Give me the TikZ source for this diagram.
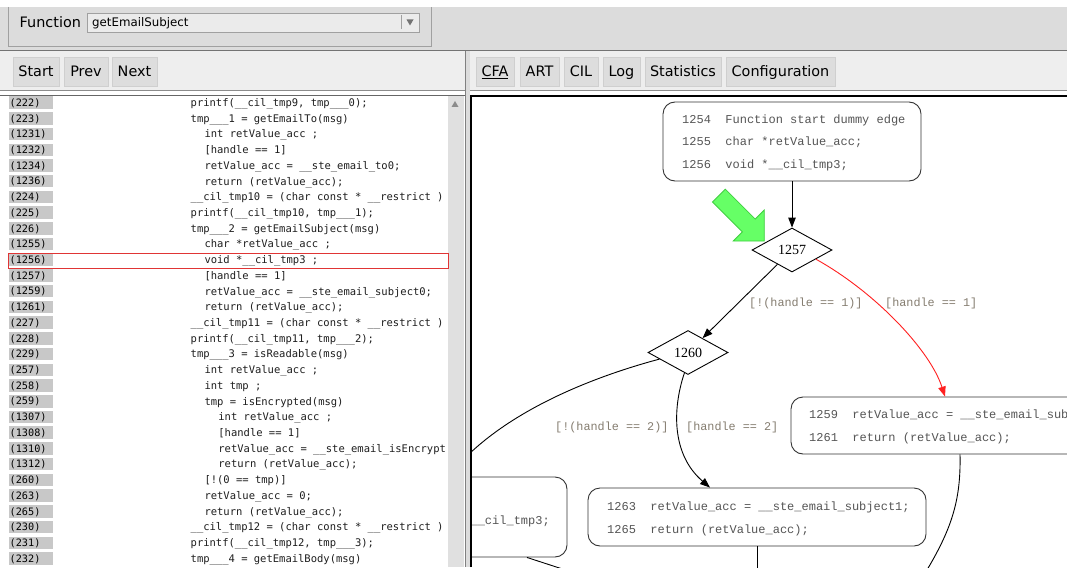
\documentclass[tikz,border=0pt]{standalone}
\usepackage{fontspec}
\usetikzlibrary{shapes.geometric,arrows.meta,calc}
\newfontfamily\uifont{DejaVu Sans}
\newfontfamily\codefont{DejaVu Sans Mono}
\newfontfamily\gvmono{Liberation Mono}
\newfontfamily\gvserif{Liberation Serif}
\definecolor{panelgray}{HTML}{DCDCDC}
\definecolor{barbg}{HTML}{EEEEEE}
\definecolor{btnbg}{HTML}{DDDDDD}
\definecolor{btnedge}{HTML}{CFCFCF}
\definecolor{edgegray}{HTML}{A0A0A0}
\definecolor{combobg}{HTML}{EBEBEB}
\definecolor{numbg}{HTML}{C8C8C8}
\definecolor{codeink}{HTML}{1E1E1E}
\definecolor{gvink}{HTML}{555555}
\definecolor{gvlabel}{HTML}{857D70}
\definecolor{hlred}{HTML}{E03535}
\definecolor{arrowgreen}{HTML}{66FF66}
\definecolor{arrowgreenedge}{HTML}{3FCF3F}
\definecolor{gvred}{HTML}{FF2020}
\newcommand\codeRow[4]{%
  \pgfmathsetmacro\rowy{102.6+15.72*#1}%
  \node[numbox] (n#1) at (31,\rowy) {};%
  \node[numtxt] (nt#1) at (9.5,\rowy+3.7) {(#2)};%
  \node[codetxt] (c#1) at (#3,\rowy+3.8) {#4};%
}
\tikzset{
  ui/.style={font=\uifont\fontsize{14.4pt}{16pt}\selectfont, text=black},
  btn/.style={ui, fill=btnbg, draw=btnedge, line width=0.6pt, minimum height=29pt, inner sep=0pt, text height=10.5pt, text depth=0pt},
  numbox/.style={fill=numbg, minimum width=44pt, minimum height=12.5pt, inner sep=0pt},
  numtxt/.style={anchor=base west, inner sep=0pt, font=\codefont\fontsize{10.2pt}{12pt}\selectfont, text=black},
  codetxt/.style={anchor=base west, inner sep=0pt, font=\codefont\fontsize{10.5pt}{12pt}\selectfont, text=codeink},
  gvbox/.style={draw=black!80, line width=0.9pt, rounded corners=12pt, fill=white, inner sep=0pt},
  gvdiam/.style={diamond, draw=black, line width=0.9pt, fill=white, minimum width=80pt, minimum height=44pt, inner sep=0pt, font=\gvserif\fontsize{14pt}{16pt}\selectfont},
  gvtxt/.style={anchor=base west, inner sep=0pt, font=\gvmono\fontsize{12pt}{14pt}\selectfont, text=gvink},
  gvlab/.style={anchor=base west, inner sep=0pt, font=\gvmono\fontsize{11.8pt}{14pt}\selectfont, text=gvlabel},
  gvedge/.style={draw=black, line width=0.9pt, -{Triangle[length=10pt,width=7.5pt]}},
  gvredge/.style={draw=gvred, line width=0.9pt, -{Triangle[length=10pt,width=7.5pt]}},
  gvline/.style={draw=black, line width=0.9pt}
}
\begin{document}
\begin{tikzpicture}[x=1pt,y=-1pt]
\useasboundingbox (0,0) rectangle (1067,567);
\fill[white] (0,0) rectangle (1067,567);
% top bar
\fill[panelgray] (0,7) rectangle (1067,50);
\draw[edgegray, line width=0.8pt] (8,7) -- (8,46) -- (431,46) -- (431,7);
\node[ui, anchor=base west, inner sep=0pt] (fnlabel) at (19.5,28) {Function};
\node[draw=edgegray, fill=combobg, minimum width=332pt, minimum height=19pt, inner sep=0pt] (combo) at (253,22.5) {};
\node[anchor=base west, inner sep=0pt, font=\uifont\fontsize{11.8pt}{14pt}\selectfont] (combotxt) at (92,27) {getEmailSubject};
\draw[edgegray] (401.5,15.5) -- (401.5,29.5);
\fill[black!55] (406.5,19.5) -- (413.5,19.5) -- (410,25.5) -- cycle;
\draw[black!55, line width=1pt] (0,50.5) -- (1067,50.5);
% toolbars
\fill[barbg] (0,51) rectangle (465,90);
\fill[barbg] (470,51) rectangle (1067,90);
\fill[panelgray] (465,51) rectangle (470,567);
\draw[black!45] (0,90.5) -- (465,90.5);
\draw[black!45] (470,90.5) -- (1067,90.5);
\draw[black!50] (465.5,51) -- (465.5,567);
\node[btn, minimum width=46pt] (bstart) at (36,71.5) {Start};
\node[btn, minimum width=44pt] (bprev) at (86,71.5) {Prev};
\node[btn, minimum width=45pt] (bnext) at (134.5,71.5) {Next};
\node[btn, minimum width=38pt] (bcfa) at (495,71.5) {\underline{CFA}};
\node[btn, minimum width=39pt] (bart) at (539.5,71.5) {ART};
\node[btn, minimum width=34pt] (bcil) at (581,71.5) {CIL};
\node[btn, minimum width=37pt] (blog) at (621.5,71.5) {Log};
\node[btn, minimum width=76pt] (bstat) at (683,71.5) {Statistics};
\node[btn, minimum width=109pt] (bconf) at (780.5,71.5) {Configuration};
% code panel
\fill[white] (0,91) rectangle (465,567);
\draw[black!60] (0,95.5) -- (465,95.5);
\fill[black!12] (448,96) rectangle (463.5,567);
\fill[black!45] (451.5,107) -- (458.5,107) -- (455,101) -- cycle;
\begin{scope}
\clip (0,96) rectangle (447.5,567);
\codeRow{0}{222}{190.5}{printf(\_\_cil\_tmp9, tmp\_\_\_0);}
\codeRow{1}{223}{190.5}{tmp\_\_\_1 = getEmailTo(msg)}
\codeRow{2}{1231}{204.3}{int retValue\_acc ;}
\codeRow{3}{1232}{204.3}{[handle == 1]}
\codeRow{4}{1234}{204.3}{retValue\_acc = \_\_ste\_email\_to0;}
\codeRow{5}{1236}{204.3}{return (retValue\_acc);}
\codeRow{6}{224}{190.5}{\_\_cil\_tmp10 = (char const * \_\_restrict )}
\codeRow{7}{225}{190.5}{printf(\_\_cil\_tmp10, tmp\_\_\_1);}
\codeRow{8}{226}{190.5}{tmp\_\_\_2 = getEmailSubject(msg)}
\codeRow{9}{1255}{204.3}{char *retValue\_acc ;}
\codeRow{10}{1256}{204.3}{void *\_\_cil\_tmp3 ;}
\codeRow{11}{1257}{204.3}{[handle == 1]}
\codeRow{12}{1259}{204.3}{retValue\_acc = \_\_ste\_email\_subject0;}
\codeRow{13}{1261}{204.3}{return (retValue\_acc);}
\codeRow{14}{227}{190.5}{\_\_cil\_tmp11 = (char const * \_\_restrict )}
\codeRow{15}{228}{190.5}{printf(\_\_cil\_tmp11, tmp\_\_\_2);}
\codeRow{16}{229}{190.5}{tmp\_\_\_3 = isReadable(msg)}
\codeRow{17}{257}{204.3}{int retValue\_acc ;}
\codeRow{18}{258}{204.3}{int tmp ;}
\codeRow{19}{259}{204.3}{tmp = isEncrypted(msg)}
\codeRow{20}{1307}{218.2}{int retValue\_acc ;}
\codeRow{21}{1308}{218.2}{[handle == 1]}
\codeRow{22}{1310}{218.2}{retValue\_acc = \_\_ste\_email\_isEncrypt}
\codeRow{23}{1312}{218.2}{return (retValue\_acc);}
\codeRow{24}{260}{204.3}{[!(0 == tmp)]}
\codeRow{25}{263}{204.3}{retValue\_acc = 0;}
\codeRow{26}{265}{204.3}{return (retValue\_acc);}
\codeRow{27}{230}{190.5}{\_\_cil\_tmp12 = (char const * \_\_restrict )}
\codeRow{28}{231}{190.5}{printf(\_\_cil\_tmp12, tmp\_\_\_3);}
\codeRow{29}{232}{190.5}{tmp\_\_\_4 = getEmailBody(msg)}
\end{scope}
\draw[hlred, line width=1pt] (8.5,253.2) rectangle (448,268);
% graph panel
\fill[white] (471,96) rectangle (1067,567);
\begin{scope}
\clip (472,97) rectangle (1067,567);
\node[gvbox, minimum width=258pt, minimum height=79pt] (btop) at (792,141.5) {};
\node[gvtxt] (t1254) at (682,124) {1254~~Function start dummy edge};
\node[gvtxt] (t1255) at (682,145.7) {1255~~char *retValue\_acc;};
\node[gvtxt] (t1256) at (682,168) {1256~~void *\_\_cil\_tmp3;};
\node[gvdiam] (d1257) at (792,250) {1257};
\node[gvdiam] (d1260) at (688,352.5) {1260};
\node[gvbox, minimum width=338pt, minimum height=57pt] (b1259) at (960,425.5) {};
\node[gvtxt] (t1259) at (809,418) {1259~~retValue\_acc = \_\_ste\_email\_sub};
\node[gvtxt] (t1261) at (809,441) {1261~~return (retValue\_acc);};
\node[gvbox, minimum width=338pt, minimum height=58pt] (b1263) at (757,517) {};
\node[gvtxt] (t1263) at (607,510) {1263~~retValue\_acc = \_\_ste\_email\_subject1;};
\node[gvtxt] (t1265) at (607,533) {1265~~return (retValue\_acc);};
\node[gvbox, minimum width=201pt, minimum height=80pt] (bleft) at (466.5,517) {};
\node[gvtxt, anchor=base east] (tleft) at (550,524) {\_\_cil\_tmp3;};
\coordinate (offL) at (468,455);
\coordinate (off63) at (757,575);
\coordinate (off59) at (922,578);
\coordinate (offLB) at (587,577);
\draw[gvedge] (btop) -- (d1257);
\draw[gvedge] (d1257) -- (d1260);
\draw[gvredge] (d1257.-21) .. controls (875,292) and (930,350) .. ($(b1259.north)+(-15,0)$);
\draw[gvline] (d1260.193) .. controls (600,375) and (520,405) .. (offL);
\draw[gvedge] (d1260.-100) .. controls (672,410) and (672,455) .. ($(b1263.north)+(-47,0)$);
\draw[gvline] (b1263.south) -- (off63);
\draw[gvline] (b1259.south) .. controls (961,500) and (952,530) .. (off59);
\draw[gvline] ($(bleft.south)+(60.5,0)$) -- (offLB);
\node[gvlab] (l1) at (749,306) {[!(handle == 1)]};
\node[gvlab] (l2) at (885,306) {[handle == 1]};
\node[gvlab] (l3) at (555,430) {[!(handle == 2)]};
\node[gvlab] (l4) at (686,430) {[handle == 2]};
\draw[fill=arrowgreen, draw=arrowgreenedge, line width=0.8pt, line join=miter] (712.5,202) -- (725.3,189.2) -- (755.2,219.1) -- (764.3,210) -- (764.3,241) -- (733.3,241) -- (742.4,231.9) -- cycle;
\end{scope}
\draw[black, line width=2pt] (471,567) -- (471,96) -- (1067,96);
\end{tikzpicture}
\end{document}
